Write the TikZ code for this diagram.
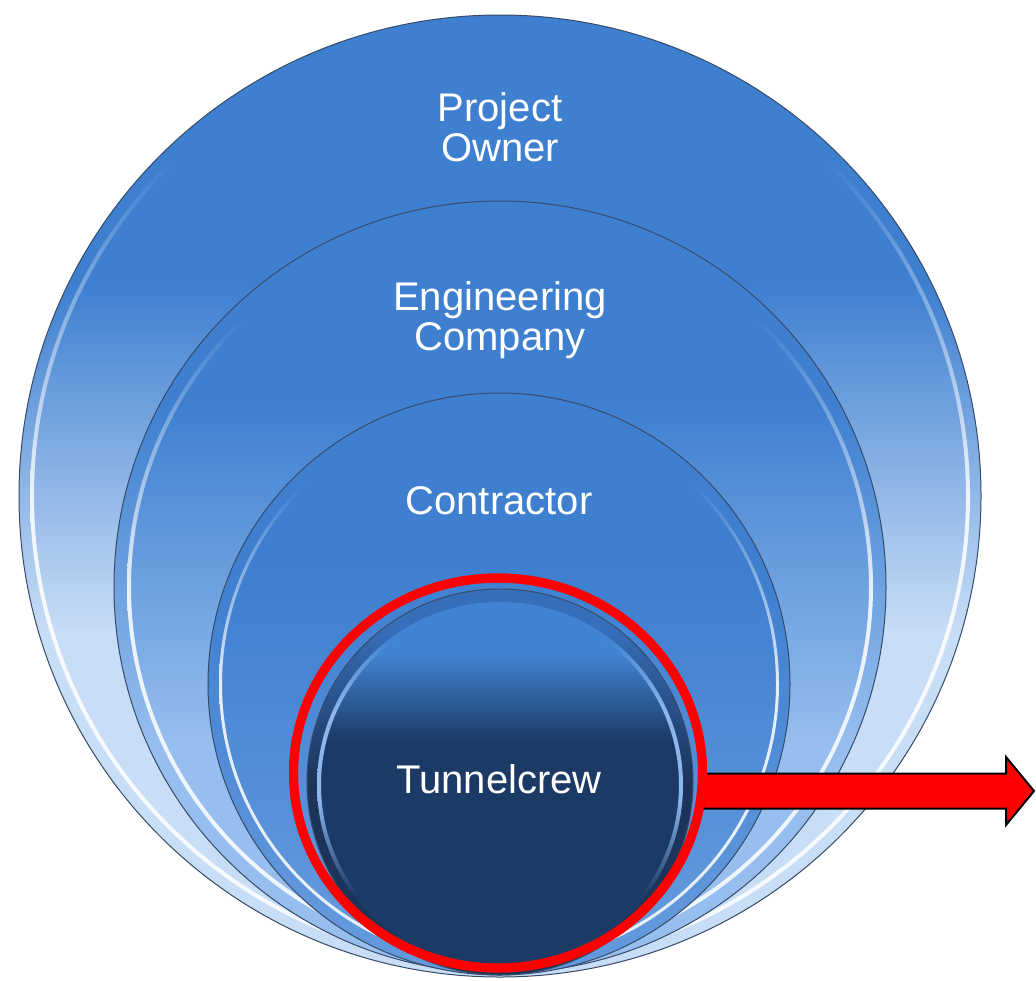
\documentclass[tikz,border=0pt]{standalone}
\usepackage{fontspec}
\setmainfont{Liberation Sans}
\usetikzlibrary{calc,shapes.geometric}
\definecolor{mainb}{RGB}{62,127,208}
\definecolor{lightA}{RGB}{200,221,246}
\definecolor{lightB}{RGB}{150,190,238}
\definecolor{lightC}{RGB}{98,152,220}
\definecolor{faceTop}{RGB}{66,132,212}
\definecolor{faceBot}{RGB}{27,58,102}
\definecolor{ringTop}{RGB}{55,110,185}
\definecolor{ringBot}{RGB}{28,52,90}
\definecolor{hl}{RGB}{140,182,236}
\definecolor{edgec}{RGB}{55,75,105}
\pgfdeclareverticalshading{shA}{100bp}{color(0bp)=(lightA); color(43bp)=(lightA); color(61bp)=(mainb); color(100bp)=(mainb)}
\pgfdeclareverticalshading{shB}{100bp}{color(0bp)=(lightB); color(40bp)=(lightB); color(62bp)=(mainb); color(100bp)=(mainb)}
\pgfdeclareverticalshading{shC}{100bp}{color(0bp)=(lightC); color(30bp)=(lightC); color(60bp)=(mainb); color(100bp)=(mainb)}
\pgfdeclareverticalshading{shFace}{100bp}{color(0bp)=(faceBot); color(56bp)=(faceBot); color(68bp)=(faceTop); color(100bp)=(faceTop)}
\pgfdeclareverticalshading{shRing}{100bp}{color(0bp)=(ringBot); color(50bp)=(ringBot); color(70bp)=(ringTop); color(100bp)=(ringTop)}
\pgfdeclareverticalshading{shRim}{100bp}{color(0bp)=(white); color(50bp)=(white); color(68bp)=(mainb); color(100bp)=(mainb)}
\pgfdeclareverticalshading{shRimFace}{100bp}{color(0bp)=(faceBot); color(35bp)=(faceBot); color(48bp)=(hl); color(60bp)=(hl); color(70bp)=(faceTop); color(100bp)=(faceTop)}
\tikzset{
  lbl/.style={text=white, font=\fontsize{40}{40}\selectfont, align=center, inner sep=0pt},
  edgeline/.style={draw=edgec, line width=1pt},
  rim/.style={shading=shRim, even odd rule, opacity=0.85},
  bigarrow/.style={fill=red, draw=black, line width=2pt, line join=miter},
  redring/.style={draw=red, line width=9pt, ellipse, inner sep=0pt}
}
\begin{document}
\begin{tikzpicture}[x=1pt,y=-1pt]
\fill[white] (0,0) rectangle (1036,980);
\useasboundingbox (0,0) rectangle (1036,980);
\coordinate (cA) at (500,496);
\coordinate (cB) at (500,587);
\coordinate (cC) at (499,684);
\coordinate (cD) at (500,782);
\coordinate (cE) at (500,785);
% outer circle
\shade[shading=shA] (cA) circle[radius=481pt];
\shade[rim] (cA) circle[radius=470pt] (cA) circle[radius=466pt];
\draw[edgeline] (cA) circle[radius=481pt];
% second circle
\shade[shading=shB] (cB) circle[radius=386pt];
\shade[rim] (cB) circle[radius=373pt] (cB) circle[radius=369pt];
\draw[edgeline] (cB) circle[radius=386pt];
% third circle
\shade[shading=shC] (cC) circle[radius=291pt];
\shade[rim] (cC) circle[radius=280pt] (cC) circle[radius=277pt];
\draw[edgeline] (cC) circle[radius=291pt];
% tunnelcrew circle
\shade[shading=shRing] (cD) circle[radius=193pt];
\draw[edgeline] (cD) circle[radius=193pt];
\shade[shading=shFace] (cE) circle[radius=183pt];
\shade[shading=shRimFace, even odd rule] (cE) circle[radius=183pt] (cE) circle[radius=179pt];
% red ring
\node[redring, minimum width=409pt, minimum height=390pt] (red) at (498,773) {};
% arrow
\coordinate (aend) at (1034,791);
\coordinate (rE) at ([xshift=-4pt]red.east);
\coordinate (astart) at (rE |- aend);
\draw[bigarrow] ($(astart)+(0,-17.5)$) -- ($(aend)+(-28,-17.5)$) -- ($(aend)+(-28,-34)$) -- (aend) -- ($(aend)+(-28,34)$) -- ($(aend)+(-28,17.5)$) -- ($(astart)+(0,17.5)$) -- cycle;
\node[redring, minimum width=409pt, minimum height=390pt] at (red.center) {};
% labels
\node[lbl] (po) at (500,127) {Project\\Owner};
\node[lbl] (ec) at (500,320) {Engineering\\Company};
\node[lbl] (co) at (499,501) {Contractor};
\node[lbl] (tc) at (499,779) {Tunnelcrew};
\end{tikzpicture}
\end{document}
